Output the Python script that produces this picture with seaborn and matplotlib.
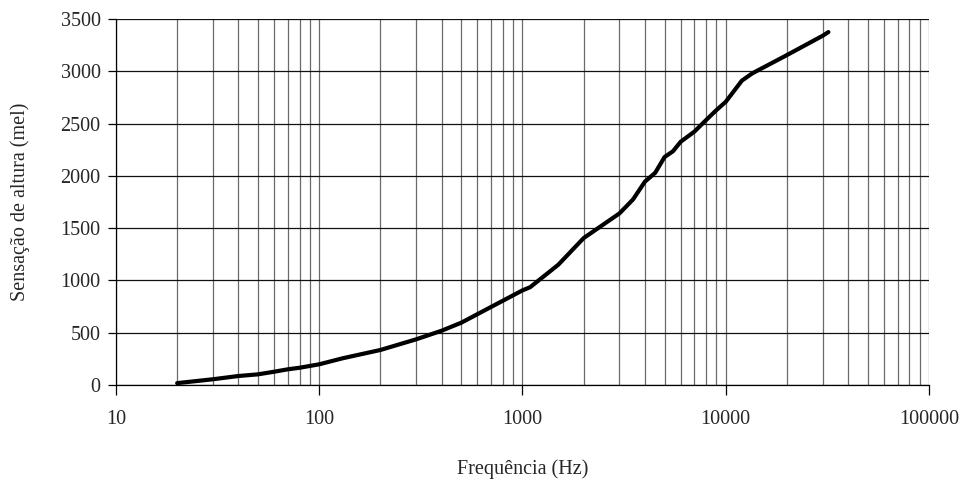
import matplotlib
matplotlib.use('Agg')
import matplotlib.pyplot as plt
import matplotlib.ticker as mticker
import pandas as pd
import seaborn as sns

# valores
freq = [20, 30, 40, 50, 60, 70, 80, 100, 130, 200, 300, 400, 500, 1000, 1090,
        1500, 2000, 3000, 3500, 4000, 4500, 5000, 5500, 6000, 7000, 8000, 9000,
        10000, 12000, 13500, 20000, 30000, 32000]
mel = [18, 55, 86, 102, 127, 150, 165, 198, 255, 335, 437, 519, 596, 905, 935,
       1150, 1405, 1641, 1775, 1944, 2030, 2180, 2235, 2326, 2422, 2533, 2629,
       2708, 2910, 2980, 3155, 3340, 3375]
xticks = [10, 100, 1000, 10000, 100000]
yticks = [0, 500, 1000, 1500, 2000, 2500, 3000, 3500]

df = pd.DataFrame({'freq': freq, 'mel': mel})

sns.set_style('white')
plt.rcParams['font.family'] = ['Liberation Serif', 'DejaVu Serif']

fig = plt.figure(figsize=(9.68, 4.86), dpi=100)
ax = fig.add_axes([0.1198, 0.2078, 0.8399, 0.7531])

ax.set_xscale('log')
ax.set_xlim(10, 100000)
ax.set_ylim(0, 3500)

# grelha
ax.xaxis.set_major_locator(mticker.FixedLocator(xticks))
ax.xaxis.set_minor_locator(mticker.LogLocator(base=10, subs=range(2, 10)))
ax.xaxis.set_minor_formatter(mticker.NullFormatter())
ax.set_xticklabels([str(t) for t in xticks])
ax.set_yticks(yticks)
ax.set_yticklabels([str(t) for t in yticks])
ax.grid(True, axis='x', which='both', color='#6a6a6a', linewidth=0.9)
ax.grid(True, axis='y', which='major', color='#111111', linewidth=0.9)
ax.set_axisbelow(True)

sns.lineplot(data=df, x='freq', y='mel', color='black', linewidth=3, ax=ax)

for s in ['top', 'right']:
    ax.spines[s].set_visible(False)
for s in ['left', 'bottom']:
    ax.spines[s].set_color('black')
    ax.spines[s].set_linewidth(0.9)

ax.tick_params(axis='x', which='major', direction='out', length=7, width=0.9,
               color='black', bottom=True, pad=11, labelsize=14.5)
ax.tick_params(axis='x', which='minor', length=0, bottom=False)
ax.tick_params(axis='y', which='major', direction='out', length=6, width=0.9,
               color='black', left=True, pad=5, labelsize=14.5)

ax.set_xlabel('Frequência (Hz)', fontsize=14.5, labelpad=22)
ax.set_ylabel('Sensação de altura (mel)', fontsize=14.5, labelpad=22)

plt.savefig('out.png', dpi=100)
